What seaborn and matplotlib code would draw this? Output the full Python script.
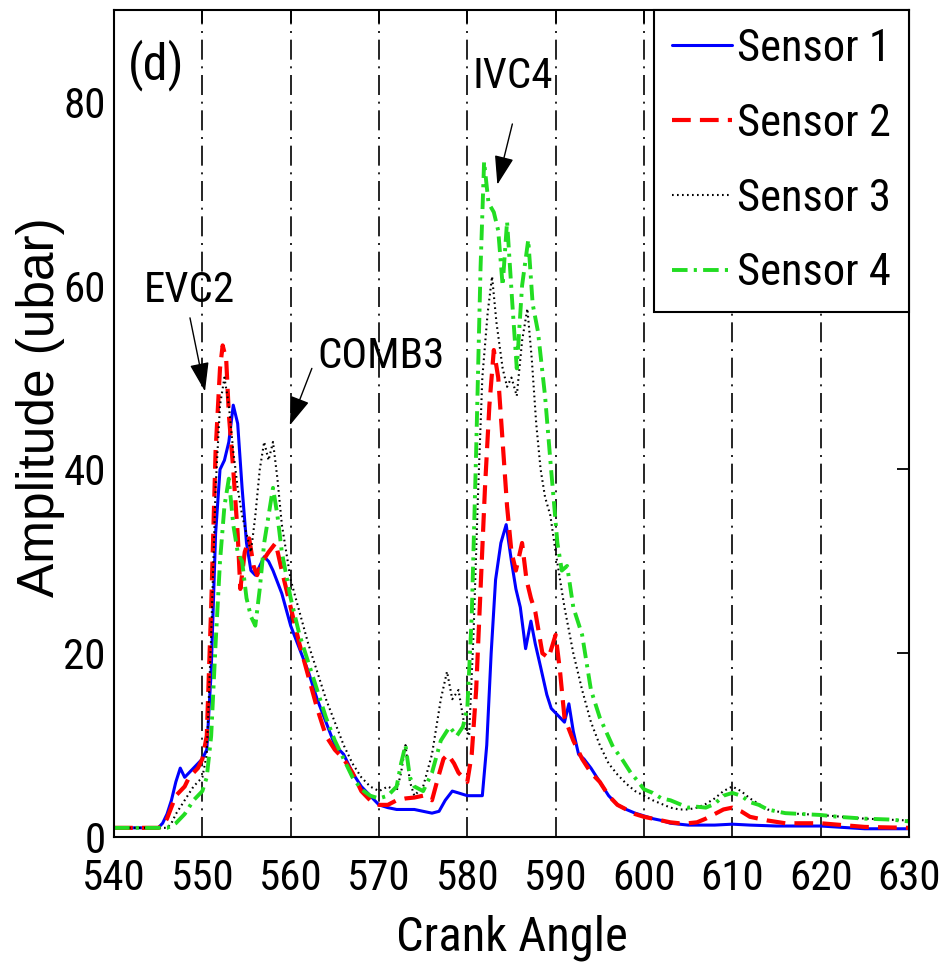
import matplotlib
matplotlib.use("Agg")
import matplotlib.pyplot as plt
import seaborn as sns
import numpy as np

# crank angle / amplitude (ubar)
s1_x = [540, 543, 545, 545.5, 546, 546.5, 547, 547.5, 548, 548.5, 549, 549.5, 550, 550.5, 551, 551.5,
        552, 552.5, 553, 553.5, 554, 554.5, 555, 555.5, 556, 556.5, 557, 557.5, 558, 559, 560, 561,
        562, 563, 564, 565, 566, 567, 568, 569, 570, 571, 572, 573, 574, 575, 576, 576.8, 577.5, 578.3,
        579, 580, 581, 581.7, 582.2, 582.7, 583.2, 583.8, 584.4, 585, 585.5, 586, 586.6, 587.2, 587.7,
        588.3, 589, 589.5, 590.3, 591, 591.5, 592, 592.6, 593.2, 594, 595, 596, 597, 598, 599, 600,
        601, 602, 603, 605, 608, 610, 612, 615, 620, 625, 630]
s1_y = [1.0, 1.0, 1.0, 1.5, 2.5, 4, 6, 7.5, 6.5, 7, 7.5, 8, 8.5, 9.5, 18, 33,
        40, 41, 43, 47, 45, 38, 32, 29, 28.5, 29.5, 30.5, 30, 29, 26.5, 23, 20.5,
        18, 15, 12.5, 10, 9, 7, 5.5, 4.5, 3.5, 3.2, 3.0, 3.0, 3.0, 2.8, 2.6, 2.8, 4, 5,
        4.8, 4.5, 4.5, 4.5, 10, 20, 28, 32, 34, 30, 27, 25, 20.5, 23.5, 21,
        18.5, 15.5, 14, 13.2, 12.5, 14.5, 11.5, 9, 8.5, 7.5, 6, 4.5, 3.5, 3, 2.6, 2.3,
        2.0, 1.8, 1.5, 1.3, 1.3, 1.4, 1.3, 1.2, 1.2, 0.9, 0.9]

s2_x = [540, 545, 545.5, 546, 546.6, 547, 548, 548.5, 549, 549.5, 550, 550.5, 551, 551.5, 552, 552.3,
        552.7, 553, 553.5, 554, 554.3, 554.8, 555.3, 555.8, 556.2, 556.8, 557.5, 558.3, 559, 560, 561,
        562, 563, 564, 565, 566, 567, 568, 569, 570, 571, 572, 573, 574, 575, 576, 576.7, 577.3, 577.8,
        578.5, 579, 580, 580.5, 581, 581.5, 582, 582.5, 583, 583.5, 584, 584.5, 585, 585.5, 586.2,
        586.7, 587.2, 587.7, 588.5, 589.2, 590, 590.5, 591, 592, 593, 594, 595, 596, 597, 598, 599,
        600, 601, 602, 603, 604, 605, 606, 607, 608, 609, 610, 611, 612, 614, 616, 620, 625, 630]
s2_y = [1.0, 1.0, 1.2, 2, 3.5, 4.5, 5.5, 6.5, 7, 7.5, 8.5, 11, 25, 42, 51, 53.5,
        52, 46, 40, 33, 27, 31, 32.5, 29.5, 28.5, 30, 31, 32, 29, 25, 21,
        17.5, 14, 11, 9.5, 8.5, 7, 5, 4, 3.5, 3.5, 4, 4.2, 4.3, 4.5, 4.0, 6.5, 8.5, 9,
        8, 7, 6, 9, 16, 27, 38, 47, 53, 50, 43, 36, 31, 29, 32,
        28, 26, 24.5, 20, 19.5, 22, 18, 13, 10.5, 8.5, 7, 6, 4.5, 3.5, 3, 2.5,
        2.2, 2, 1.8, 1.6, 1.5, 1.5, 1.6, 2, 2.5, 3, 3.2, 2.8, 2.2, 1.8, 1.5, 1.5, 1.1, 1.0]

s3_x = [540, 546, 546.5, 547, 548, 549, 550, 550.5, 551, 551.5, 552, 552.5, 553, 553.5, 554, 554.5,
        555, 555.5, 556, 556.5, 557, 557.5, 558, 558.5, 559, 559.5, 560, 561, 562, 563, 564, 565,
        566, 567, 568, 569, 570, 571, 572, 572.5, 573, 573.5, 574, 575, 576, 577, 577.7, 578.3, 579,
        579.7, 580.2, 580.7, 581.2, 581.7, 582.3, 582.8, 583.3, 584, 584.5, 585, 585.6, 586.2, 586.8,
        587.3, 587.8, 588.3, 588.8, 589.4, 590, 591, 592, 593, 594, 595, 596, 597, 598, 599, 600,
        601, 602, 603, 604, 605, 606, 607, 608, 609, 610, 611, 612, 613, 614, 616, 618, 620, 625, 630]
s3_y = [1.0, 1.0, 1.5, 2.5, 4, 5.5, 6.5, 9, 22, 38, 47, 50, 47, 42, 38, 35,
        33, 31, 35, 40, 43, 41, 43, 39, 34, 31, 28, 24.5, 21, 18, 15, 12.5,
        10, 8, 6.5, 5.5, 5, 5.5, 5, 7, 10, 6, 4.5, 5.5, 9, 15, 18, 15, 16,
        12, 11, 22, 37, 50, 57, 61, 56, 51, 49, 50, 48, 54, 57.5,
        52, 45, 40, 37, 35, 31, 25, 20, 16, 12.5, 10, 8, 6.8, 5.8, 5, 4.5,
        4, 3.6, 3.2, 3, 3, 3.2, 3.6, 4.2, 5, 5.5, 5, 4.2, 3.6, 3, 2.6, 2.5, 2.4, 2, 1.8]

s4_x = [540, 546, 546.5, 547, 548, 549, 550, 550.5, 551, 551.5, 552, 552.5, 553, 553.5, 554, 554.5,
        555, 555.5, 556, 556.5, 557, 557.5, 558, 558.5, 559, 560, 561, 562, 563, 564, 565, 566,
        567, 568, 569, 570, 571, 572, 572.5, 573, 573.5, 574, 575, 576, 577, 578, 578.8, 579.5, 580,
        580.5, 581, 581.5, 581.9, 582.4, 583, 583.5, 584, 584.5, 585.1, 585.6, 586.2, 586.9, 587.4,
        588, 588.8, 589.4, 590.2, 590.7, 591.3, 592, 593, 594, 595, 596.5, 597.5, 598.5, 599.2, 600,
        601, 602, 603, 604, 605, 606, 607, 608, 609, 610, 611, 612, 613, 614, 616, 618, 620, 622,
        625, 628, 630]
s4_y = [1.0, 1.0, 1.2, 1.5, 2.5, 4, 5, 6.5, 11, 21, 30, 36, 39, 34, 31, 30,
        26, 24, 23, 27, 32, 35, 38, 35, 31, 26, 22, 19, 16, 13, 10.5, 8.5,
        6.5, 5.2, 4.5, 4.2, 4.5, 5.5, 8, 10, 6.5, 5.5, 5, 7, 10.5, 12, 11, 12, 14,
        24, 42, 62, 73.5, 69, 68, 66, 60, 67, 58, 51, 60, 65, 58,
        55, 48, 41, 32, 29, 29.5, 25, 22, 16, 13, 9.8, 8.5, 7, 6.2, 5.2,
        4.8, 4.2, 4, 3.6, 3.2, 3.3, 3.2, 3.6, 4.5, 4.8, 4.5, 3.8, 3.5, 3, 2.6, 2.5, 2.4, 2.2,
        2.0, 1.9, 1.7]

sensor_names = ["Sensor 1", "Sensor 2", "Sensor 3", "Sensor 4"]
x_ticks = [540, 550, 560, 570, 580, 590, 600, 610, 620, 630]
y_ticks = [0, 20, 40, 60, 80]

sns.set_style("white")
# narrow face first (the reference text is horizontally squeezed), plain fallbacks after it
plt.rcParams["font.family"] = ["Roboto Condensed", "Liberation Sans", "DejaVu Sans"]
plt.rcParams["text.color"] = "k"
plt.rcParams["axes.labelcolor"] = "k"
plt.rcParams["xtick.color"] = "k"
plt.rcParams["ytick.color"] = "k"

fig = plt.figure(figsize=(9.47, 9.64), dpi=100)
ax = fig.add_axes([0.1204, 0.1317, 0.8394, 0.8579])

series = [(s1_x, s1_y), (s2_x, s2_y), (s3_x, s3_y), (s4_x, s4_y)]
colors = ["#0000ff", "#ff0000", "#000000", "#22dd22"]
styles = ["-", (0, (4.5, 2.2)), (0, (0.8, 1.6)), (0, (4, 1.6, 0.8, 1.6))]
widths = [2.2, 3.0, 1.5, 2.8]

for (xs, ys), name, c, ls, lw in zip(series, sensor_names, colors, styles, widths):
    sns.lineplot(x=xs, y=ys, ax=ax, color=c, linestyle=ls, linewidth=lw,
                 label=name, estimator=None, sort=False)

ax.set_xlim(540, 630)
ax.set_ylim(0, 90)
ax.set_xticks(x_ticks)
ax.set_yticks(y_ticks)
ax.tick_params(direction="in", length=9, width=1.3, labelsize=31, top=True, right=True, pad=6)
ax.tick_params(axis="x", pad=15)
for sp in ax.spines.values():
    sp.set_color("k")
    sp.set_linewidth(1.5)

ax.set_axisbelow(True)
ax.grid(axis="x", color="k", linestyle=(0, (12, 4, 1.2, 4)), linewidth=1.2)
ax.grid(axis="y", visible=False)

ax.set_xlabel("Crank Angle", fontsize=35)
ax.xaxis.set_label_coords(0.5, -0.094)
ax.set_ylabel("Amplitude (ubar)", fontsize=37, family=["Liberation Sans", "DejaVu Sans"])
ax.yaxis.set_label_coords(-0.062, 0.52)

leg = ax.legend(loc="upper right", fontsize=32, frameon=True, fancybox=False, framealpha=1,
                edgecolor="k", borderaxespad=0, handlelength=1.35, handletextpad=0.12,
                labelspacing=0.74, borderpad=0.4)
leg.get_frame().set_linewidth(1.5)

# panel tag and event labels
ax.text(541.6, 84.0, "(d)", fontsize=36, ha="left", va="center")
ax.text(548.5, 59.5, "EVC2", fontsize=31, ha="center", va="center")
ax.text(570.2, 52.3, "COMB3", fontsize=31, ha="center", va="center")
ax.text(585.2, 82.8, "IVC4", fontsize=31, ha="center", va="center")

arrow_kw = dict(arrowstyle="-|>,head_length=0.9,head_width=0.3", color="k", lw=1.0,
                mutation_scale=20, shrinkA=0, shrinkB=0)
ax.annotate("", xy=(550.3, 48.5), xytext=(548.6, 56.5), arrowprops=arrow_kw)
ax.annotate("", xy=(559.9, 44.8), xytext=(562.4, 51.0), arrowprops=arrow_kw)
ax.annotate("", xy=(583.4, 71.0), xytext=(585.1, 77.6), arrowprops=arrow_kw)

fig.savefig("out.png", dpi=100)
